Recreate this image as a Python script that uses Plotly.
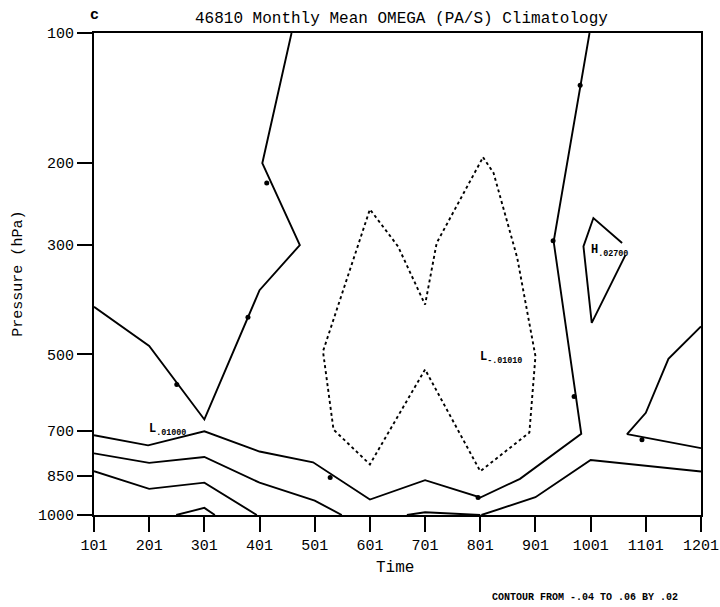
import numpy as np
import plotly.graph_objects as go

# ---------------- data ----------------
months = list(range(1, 13))
month_labels = ["101", "201", "301", "401", "501", "601", "701", "801", "901", "1001", "1101", "1201"]
p_ticks = [100, 200, 300, 500, 700, 850, 1000]

# zero contour, upper-left branch (time index, pressure hPa)
zero_a_t = [1.0, 2.0, 3.0, 4.0, 4.73, 4.05, 4.58]
zero_a_p = [402, 481, 667, 372, 300, 200, 100]

# zero contour, right branch running along the lower levels
zero_b_t = [9.98, 9.33, 9.83, 8.72, 8.0, 7.0, 6.0, 4.97, 4.0, 3.0, 1.98, 1.0]
zero_b_p = [100, 295, 710, 860, 930, 865, 938, 802, 766, 702, 746, 714]

# positive contours near the surface
pos1_left_t = [1.0, 2.0, 3.0, 4.0, 5.0, 5.49]
pos1_left_p = [772, 804, 784, 874, 942, 1000]
pos1_right_t = [8.02, 9.0, 10.0, 12.0]
pos1_right_p = [1000, 929, 794, 834]
pos2_t = [1.0, 2.0, 3.0, 3.95]
pos2_p = [833, 897, 874, 1000]
pos3a_t = [2.49, 3.0, 3.19]
pos3a_p = [1000, 971, 1000]
pos3b_t = [6.67, 7.0, 8.0]
pos3b_p = [1000, 989, 1000]

# contour at lower right (labelled "2")
pos_e_t = [12.0, 11.41, 11.0, 10.66, 12.0]
pos_e_p = [440, 510, 648, 711, 755]

# contour around the high
high_t = [10.57, 10.05, 9.87, 10.02, 10.63]
high_p = [297, 263, 302, 433, 315]

# negative (dashed) contour
neg_t = [8.05, 8.24, 8.67, 9.0, 8.89, 8.0, 7.0, 6.0, 5.34, 5.15, 6.0, 6.51, 7.0, 7.21, 8.05]
neg_p = [194, 210, 319, 504, 706, 833, 535, 809, 697, 493, 252, 302, 398, 297, 194]

# small contour-label marks along the lines
lab_t = [2.50, 3.79, 4.13, 9.81, 9.32, 9.70, 5.28, 7.96, 10.93]
lab_p = [572, 422, 221, 133, 294, 603, 855, 930, 728]

# extrema labels
ext_t = [1.956, 7.96, 9.97]
ext_p = [697, 509, 309]
ext_text = ["L<sub>.01000</sub>", "L<sub>-.01010</sub>", "H<sub>.02700</sub>"]

# ---------------- scale ----------------
EXP = 0.13


def yv(p):
    return np.asarray(p, dtype=float) ** EXP


FONT = "Liberation Mono"

fig = go.Figure()

solid = dict(color="black", width=1.9)
for tt, pp in [(zero_a_t, zero_a_p), (zero_b_t, zero_b_p),
               (pos1_left_t, pos1_left_p), (pos1_right_t, pos1_right_p),
               (pos2_t, pos2_p), (pos3a_t, pos3a_p), (pos3b_t, pos3b_p),
               (pos_e_t, pos_e_p), (high_t, high_p)]:
    fig.add_trace(go.Scatter(x=tt, y=yv(pp), mode="lines", line=solid,
                             showlegend=False, hoverinfo="skip"))

fig.add_trace(go.Scatter(x=neg_t, y=yv(neg_p), mode="lines",
                         line=dict(color="black", width=1.9, dash="3px,3px"),
                         showlegend=False, hoverinfo="skip"))

fig.add_trace(go.Scatter(x=lab_t, y=yv(lab_p), mode="markers",
                         marker=dict(size=5, color="black"),
                         showlegend=False, hoverinfo="skip"))

for tt, pp, tx in zip(ext_t, ext_p, ext_text):
    fig.add_annotation(x=tt, y=float(yv(pp)), text="<b>" + tx + "</b>", showarrow=False,
                       xanchor="left", yanchor="middle",
                       font=dict(family=FONT, size=12, color="black"))

axis_common = dict(showline=True, linecolor="black", linewidth=2, mirror=True,
                   ticks="outside", ticklen=15, tickwidth=1.5, tickcolor="black",
                   showgrid=False, zeroline=False, automargin=False,
                   tickfont=dict(family=FONT, size=15, color="black"))

fig.update_layout(
    width=720, height=607,
    margin=dict(l=94, r=19, t=33, b=92),
    paper_bgcolor="white", plot_bgcolor="white",
    xaxis=dict(range=[1, 12], tickvals=months, ticktext=month_labels, **axis_common),
    yaxis=dict(range=[float(yv(1000)), float(yv(100))], tickvals=list(yv(p_ticks)),
               ticktext=[str(p) for p in p_ticks], **axis_common),
)

fig.add_annotation(xref="paper", yref="paper", x=0.5058, y=1.0297,
                   text="46810 Monthly Mean OMEGA (PA/S) Climatology", showarrow=False,
                   xanchor="center", yanchor="middle",
                   font=dict(family=FONT, size=16, color="black"))
fig.add_annotation(xref="paper", yref="paper", x=0.001, y=1.036, text="<b>c</b>",
                   showarrow=False, xanchor="center", yanchor="middle",
                   font=dict(family=FONT, size=15, color="black"))
fig.add_annotation(xref="paper", yref="paper", x=-0.1258, y=0.5, text="Pressure (hPa)",
                   textangle=-90, showarrow=False, xanchor="center", yanchor="middle",
                   font=dict(family=FONT, size=15, color="black"))
fig.add_annotation(xref="paper", yref="paper", x=0.4967, y=-0.1093, text="Time",
                   showarrow=False, xanchor="center", yanchor="middle",
                   font=dict(family=FONT, size=16, color="black"))
fig.add_annotation(xref="paper", yref="paper", x=0.809, y=-0.172,
                   text="<b>CONTOUR FROM -.04 TO .06 BY .02</b>",
                   showarrow=False, xanchor="center", yanchor="middle",
                   font=dict(family=FONT, size=10, color="black"))

fig.write_html(
    "out.html",
    config={"displayModeBar": False},
    post_script="document.body.style.margin='0';document.body.style.overflow='hidden';",
)
